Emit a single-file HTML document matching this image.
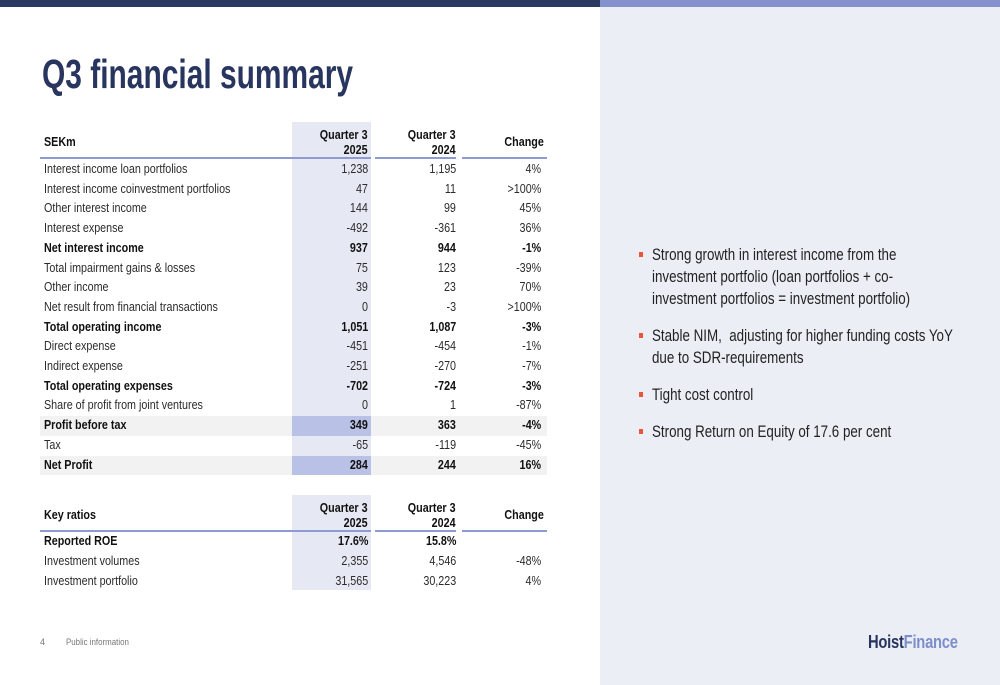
<!DOCTYPE html>
<html><head><meta charset="utf-8">
<style>
*{margin:0;padding:0;box-sizing:border-box}
body{width:1000px;height:685px;position:relative;overflow:hidden;background:#fff;font-family:"Liberation Sans",sans-serif;color:#222}
.abs{position:absolute}
.sq{display:inline-block;white-space:nowrap}
.l .sq{transform:scaleX(0.86);transform-origin:left center}
.r{text-align:right}
.r .sq{transform:scaleX(0.86);transform-origin:right center}
.cell{position:absolute;height:19.7px;line-height:19.7px;font-size:12.5px;color:#2b2b2b}
.b{font-weight:bold;color:#111}
.hdr{position:absolute;font-size:12.5px;font-weight:bold;line-height:15px;color:#111}
.line{position:absolute;height:2px;background:#8e9ad4}
.bul{position:absolute;left:652px;font-size:16.5px;line-height:22px;color:#222;white-space:nowrap;transform:scaleX(0.81);transform-origin:left top}
.dot{position:absolute;left:639px;width:4px;height:5px;background:#e8553a}
</style></head><body>
<div class="abs" style="left:0;top:0;width:600px;height:7px;background:#2c3a63"></div>
<div class="abs" style="left:600px;top:0;width:400px;height:685px;background:#eceef6"></div>
<div class="abs" style="left:600px;top:0;width:400px;height:7px;background:#8391cc"></div>

<div class="abs l" style="left:42px;top:50px;font-size:41px;font-weight:bold;color:#28355f;line-height:48px"><span class="sq" style="transform:scaleX(0.73)">Q3 financial summary</span></div>

<div id="tbl"></div>

<div class="dot" style="top:252px"></div>
<div class="bul" style="top:244px">Strong growth in interest income from the<br>investment portfolio (loan portfolios + co-<br>investment portfolios = investment portfolio)</div>
<div class="dot" style="top:333px"></div>
<div class="bul" style="top:325px">Stable NIM,&nbsp; adjusting for higher funding costs YoY<br>due to SDR-requirements</div>
<div class="dot" style="top:392px"></div>
<div class="bul" style="top:384px">Tight cost control</div>
<div class="dot" style="top:429px"></div>
<div class="bul" style="top:421px">Strong Return on Equity of 17.6 per cent</div>

<div class="abs" style="left:40px;top:637px;font-size:9px;color:#777">4</div>
<div class="abs l" style="left:66px;top:637px;font-size:9px;color:#777"><span class="sq" style="transform:scaleX(0.88)">Public information</span></div>
<div class="abs l" style="left:868px;top:632px;font-size:18px;font-weight:bold;letter-spacing:-0.3px"><span class="sq" style="transform:scaleX(0.82)"><span style="color:#28355f">Hoist</span><span style="color:#7d8fcb">Finance</span></span></div>

<script>
const labels=["Interest income loan portfolios","Interest income coinvestment portfolios","Other interest income","Interest expense","Net interest income","Total impairment gains & losses","Other income","Net result from financial transactions","Total operating income","Direct expense","Indirect expense","Total operating expenses","Share of profit from joint ventures","Profit before tax","Tax","Net Profit"];
const q2025=["1,238","47","144","-492","937","75","39","0","1,051","-451","-251","-702","0","349","-65","284"];
const q2024=["1,195","11","99","-361","944","123","23","-3","1,087","-454","-270","-724","1","363","-119","244"];
const change=["4%",">100%","45%","36%","-1%","-39%","70%",">100%","-3%","-1%","-7%","-3%","-87%","-4%","-45%","16%"];
const boldRows=[4,8,11,13,15];
const hiRows=[13,15];
const krLabels=["Reported ROE","Investment volumes","Investment portfolio"];
const kr2025=["17.6%","2,355","31,565"];
const kr2024=["15.8%","4,546","30,223"];
const krChange=["","-48%","4%"];

const T=document.getElementById('tbl');
function add(html,cls,style,name){
  const d=document.createElement('div');
  d.className=cls;d.setAttribute('style',style);d.innerHTML=html;
  
  
  T.appendChild(d);return d;
}
function header(top,h,title,prefix){
  add('','abs','left:292px;top:'+top+'px;width:79px;height:'+h+'px;background:#e6e8f4',prefix+'-col-shade');
  add('<span class="sq">'+title+'</span>','hdr l','left:44px;top:'+(top+13)+'px',prefix+'-header-label');
  add('<span class="sq">Quarter 3<br>2025</span>','hdr r','left:292px;width:76px;top:'+(top+6)+'px',prefix+'-header-2025');
  add('<span class="sq">Quarter 3<br>2024</span>','hdr r','left:375px;width:81px;top:'+(top+6)+'px',prefix+'-header-2024');
  add('<span class="sq">Change</span>','hdr r','left:462px;width:82px;top:'+(top+13)+'px',prefix+'-header-change');
  add('','line','left:40px;width:331px;top:'+(top+35)+'px',prefix+'-rule');
  add('','line','left:375px;width:81px;top:'+(top+35)+'px',prefix+'-rule');
  add('','line','left:462px;width:85px;top:'+(top+35)+'px',prefix+'-rule');
}
function row(top,i,lab,a,b,c,bold,hi,prefix){
  const bc=bold?' b':'';
  if(hi){
    add('','abs','left:40px;top:'+top+'px;width:507px;height:19.7px;background:#f2f2f2',prefix+'-row-highlight');
    add('','abs','left:292px;top:'+top+'px;width:79px;height:19.7px;background:#b9c1e6',prefix+'-cell-highlight');
  }
  add('<span class="sq">'+lab+'</span>','cell l'+bc,'left:44px;top:'+top+'px',prefix+'-row-label');
  add('<span class="sq">'+a+'</span>','cell r'+bc,'left:292px;width:76px;top:'+top+'px',prefix+'-value-2025');
  add('<span class="sq">'+b+'</span>','cell r'+bc,'left:375px;width:81px;top:'+top+'px',prefix+'-value-2024');
  add('<span class="sq">'+c+'</span>','cell r'+bc,'left:462px;width:79px;top:'+top+'px',prefix+'-value-change');
}
header(122,352,'SEKm','pl');
labels.forEach((l,i)=>{
  row(160+i*19.7,i,l,q2025[i],q2024[i],change[i],boldRows.includes(i),hiRows.includes(i),'pl');
});
header(495,95,'Key ratios','kr');
krLabels.forEach((l,i)=>{
  row(532+i*19.9,i,l,kr2025[i],kr2024[i],krChange[i],i===0,false,'kr');
});
</script>
</body></html>
